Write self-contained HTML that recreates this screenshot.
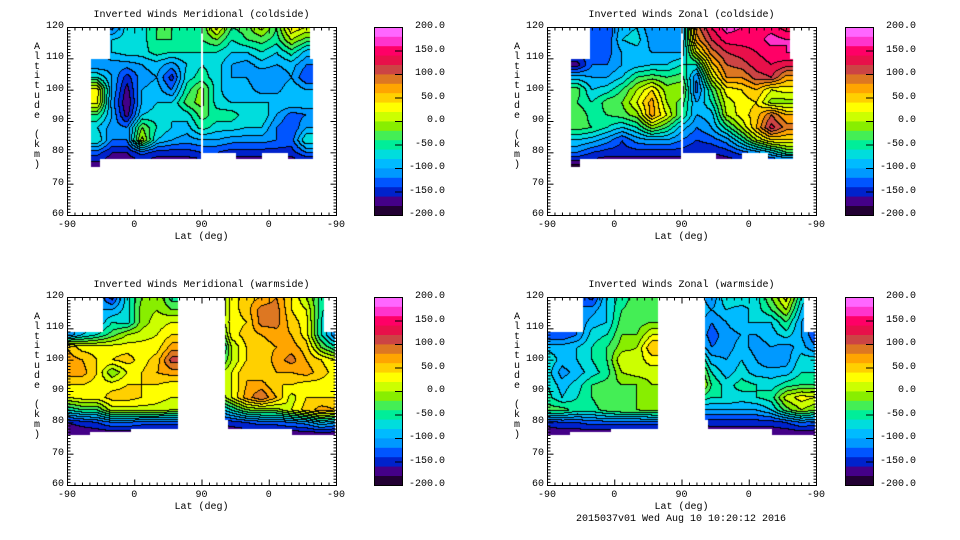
<!DOCTYPE html>
<html><head><meta charset="utf-8">
<style>
body{margin:0;background:#fff;width:960px;height:540px;overflow:hidden;position:relative;font-family:"Liberation Mono",monospace;}
.t{position:absolute;font-size:10px;color:#000;white-space:pre;line-height:12px;}
canvas{position:absolute;}
svg{position:absolute;left:0;top:0;}
</style></head><body>
<svg id="axes" width="960" height="540"></svg>
<script>
// ---- data ----
const colorBands = ["#220033","#440088","#0022cc","#0055ff","#0099ff","#00bbff","#00dddd","#00ee99","#44ee55","#88ee00","#ccff00","#ffff00","#ffd000","#ffa500","#dd7722","#cc4444","#e8104a","#ff0066","#ff33cc","#ff66ff"];
const cbTickLabels = ["200.0","150.0","100.0","50.0","0.0","-50.0","-100.0","-150.0","-200.0"];
const cbTickValues = [200,150,100,50,0,-50,-100,-150,-200];
const altRows = [120,116,112,108,104,100,96,92,88,84,80,76];
const uCols = [0,20,40,60,80,100,120,140,160,180,200,220,240,260,280,300,320,340,360];
const xTickLabels = ["-90","0","90","0","-90"];
const yTickValues = [60,70,80,90,100,110,120];
const titles = ["Inverted Winds Meridional (coldside)","Inverted Winds Zonal (coldside)","Inverted Winds Meridional (warmside)","Inverted Winds Zonal (warmside)"];
const merCold = [
[-100,-100,-100,-120,-60,30,30,-40,-80,-60,-130,-170],
[-100,-100,-100,-120,-60,30,30,-40,-80,-60,-130,-170],
[-100,-100,-100,-120,-60,30,30,-40,-80,-60,-130,-170],
[-130,-80,-80,-110,-100,-100,-110,-100,-110,-120,-160,-180],
[-70,-70,-70,-110,-150,-170,-180,-170,-120,-120,-160,-180],
[-70,-70,-70,-100,-110,-100,-100,-80,-20,10,-130,-180],
[-40,-40,-50,-90,-100,-90,-80,-70,-60,-80,-150,-180],
[-40,-40,-60,-110,-150,-120,-80,-80,-80,-100,-150,-180],
[-50,-50,-60,-80,-70,-50,-30,-70,-90,-110,-150,-180],
[-40,-40,-60,-60,-50,-10,-10,-30,-50,-100,-140,-180],
[30,-20,-60,-70,-70,-70,-70,-50,-70,-100,-140,-180],
[-40,-60,-80,-100,-100,-100,-80,-50,-70,-110,-150,-180],
[-30,-40,-80,-110,-100,-90,-80,-70,-80,-110,-150,-180],
[10,-30,-60,-90,-120,-110,-80,-60,-80,-110,-150,-180],
[-40,-50,-80,-100,-120,-110,-80,-100,-120,-120,-150,-180],
[40,0,-50,-90,-100,-80,-80,-130,-140,-130,-150,-180],
[20,-30,-90,-120,-140,-100,-80,-120,-100,-60,-120,-180],
[20,-30,-90,-120,-140,-100,-80,-120,-100,-60,-120,-180],
[20,-30,-90,-120,-140,-100,-80,-120,-100,-60,-120,-180]];
const zonCold = [
[-130,-130,-130,-170,-90,-30,-40,-20,-30,-80,-120,-180],
[-130,-130,-130,-170,-90,-30,-40,-20,-30,-80,-120,-180],
[-130,-130,-130,-170,-90,-30,-40,-20,-30,-80,-120,-180],
[-130,-130,-130,-120,-100,-80,-60,-50,-40,-90,-140,-180],
[-140,-140,-130,-120,-100,-70,-30,-40,-60,-110,-150,-180],
[-90,-80,-100,-100,-80,-40,-20,-30,-80,-140,-150,-180],
[-80,-70,-90,-90,-40,0,20,-10,-60,-110,-150,-180],
[-120,-110,-100,-80,-30,40,70,70,-10,-100,-150,-180],
[-120,-120,-100,-80,-40,-10,0,20,-40,-100,-150,-180],
[-120,-110,-100,-60,-30,0,-30,-40,-90,-120,-150,-180],
[90,70,20,-60,-120,-130,-100,-100,-120,-140,-160,-180],
[140,120,90,50,10,-40,-60,-90,-100,-130,-160,-180],
[170,150,120,100,80,30,10,0,-50,-110,-150,-180],
[160,150,130,110,80,40,30,30,0,-60,-130,-180],
[150,150,140,130,110,60,40,50,60,0,-110,-180],
[150,170,150,140,120,20,-10,100,130,40,-80,-180],
[130,160,160,130,70,30,-10,60,90,40,-40,-180],
[130,160,160,130,70,30,-10,60,90,40,-40,-180],
[130,160,160,130,70,30,-10,60,90,40,-40,-180]];
const merWarm = [
[-100,-100,-100,-120,60,70,70,40,20,-60,-160,-180],
[-100,-100,-100,-80,30,60,70,40,30,-40,-150,-180],
[-100,-100,-100,-60,30,40,40,30,30,-40,-140,-180],
[-150,-100,-60,-30,30,40,-20,30,50,10,-120,-180],
[-70,-70,-70,0,30,50,20,40,50,10,-120,-180],
[-20,-10,-10,10,30,30,40,40,40,10,-130,-180],
[0,0,10,20,30,50,60,40,30,10,-130,-180],
[-50,-20,20,40,70,110,70,30,20,0,-130,-180],
[-50,-20,20,40,70,110,70,30,20,0,-130,-180],
[-50,-50,-30,-80,-120,-70,-10,-10,-30,-100,-160,-180],
[-50,-50,-30,-80,-120,-70,-10,-10,-30,-100,-160,-180],
[30,30,30,30,0,0,20,20,20,-60,-150,-180],
[50,50,40,50,40,40,60,60,70,-20,-140,-180],
[60,90,90,60,50,40,40,70,100,-10,-130,-180],
[80,90,90,70,60,70,60,40,60,-10,-130,-180],
[40,40,50,60,70,90,60,40,10,20,-120,-180],
[0,20,30,30,50,60,70,30,40,50,-110,-180],
[-50,-50,-60,-60,-20,40,50,30,40,70,-80,-180],
[-120,-120,-120,-120,-60,20,30,20,40,60,-100,-180]];
const zonWarm = [
[-140,-140,-140,-140,-90,-60,-70,-60,-50,-30,-150,-180],
[-140,-140,-140,-140,-90,-90,-110,-90,-80,-30,-140,-180],
[-120,-120,-120,-120,-80,-80,-90,-70,-60,-50,-140,-180],
[-150,-110,-90,-70,-60,-60,-70,-40,-40,-50,-130,-180],
[-80,-80,-80,-60,-40,-40,-50,-30,-20,-30,-130,-180],
[-50,-40,-30,-20,-10,20,0,-20,-30,-20,-130,-180],
[-30,-30,-30,-20,0,10,10,-20,-20,-20,-130,-180],
[-40,-30,-20,20,60,30,10,0,-10,-10,-130,-180],
[-40,-30,-20,20,60,30,10,0,-10,-10,-130,-180],
[-80,-80,-90,-100,-80,-20,20,40,-40,-100,-160,-180],
[-80,-80,-90,-100,-80,-20,20,40,-40,-100,-160,-180],
[-120,-100,-120,-130,-120,-90,-60,-40,-60,-100,-150,-180],
[-60,-80,-100,-110,-110,-100,-90,-70,-60,-100,-150,-180],
[-60,-90,-80,-100,-90,-80,-70,-50,-70,-100,-150,-180],
[-70,-70,-80,-100,-110,-100,-90,-60,-60,-100,-150,-180],
[-20,-40,-80,-90,-100,-120,-90,-70,-50,-80,-150,-180],
[30,0,-40,-70,-110,-110,-90,-50,10,-30,-140,-180],
[-60,-80,-100,-100,-90,-70,-60,-40,30,0,-120,-180],
[-140,-140,-140,-140,-120,-70,-60,-40,20,-20,-130,-180]];
const fields = [merCold, zonCold, merWarm, zonWarm];

// ---- layout ----
const panels = [{x:67,y:27,cb:374},{x:547,y:27,cb:845},{x:67,y:297,cb:374},{x:547,y:297,cb:845}];
const PW=269, PH=188;
function maskCold(u){
  if(u<32) return null;
  if(u<57) return [u<43?75.5:78,110];
  if(u<178) return [78,120];
  if(u<181) return null;
  if(u<324) return [(u<225||(u>=260&&u<295))?80:78,120];
  if(u<329) return [78,110];
  return null;
}
function maskWarm(u){
  if(u<1) return null;
  if(u<48) return [u<30?76:77,109];
  if(u<148) return [u<85?77:78,120];
  if(u<211) return null;
  if(u<343) return [u<215?81:(u>300?76:78),120];
  if(u<358) return [76,109];
  return null;
}
const masks=[maskCold,maskCold,maskWarm,maskWarm];

const svg=document.getElementById('axes');
const NS="http://www.w3.org/2000/svg";
function mk(tag,attrs,parent){const e=document.createElementNS(NS,tag);for(const k in attrs)e.setAttribute(k,attrs[k]);(parent||svg).appendChild(e);return e;}
function txt(s,x,y,align){const d=document.createElement('div');d.className='t';d.textContent=s;d.style.top=(y-6)+'px';
  if(align==='r'){d.style.right=(960-x)+'px';}else if(align==='c'){d.style.left=(x-s.length*3.0)+'px';}else d.style.left=x+'px';
  document.body.appendChild(d);return d;}
function interp(data,u,alt){
  const ci=Math.min(17,Math.max(0,Math.floor(u/20))); const fu=(u-uCols[ci])/20;
  const ri=Math.min(10,Math.max(0,Math.floor((120-alt)/4))); const fa=(altRows[ri]-alt)/4;
  const a=data[ci][ri],b=data[ci+1][ri],c=data[ci][ri+1],d=data[ci+1][ri+1];
  return (a*(1-fu)+b*fu)*(1-fa)+(c*(1-fu)+d*fu)*fa;
}
function hex(h){return [parseInt(h.substr(1,2),16),parseInt(h.substr(3,2),16),parseInt(h.substr(5,2),16)];}
const rgb=colorBands.map(hex);

panels.forEach((p,pi)=>{
  const g=mk('g',{});
  
  
  const cv=document.createElement('canvas');cv.width=PW;cv.height=PH;cv.style.left=p.x+'px';cv.style.top=p.y+'px';
  
  
  document.body.insertBefore(cv,svg);
  const ctx=cv.getContext('2d');const img=ctx.createImageData(PW,PH);
  const band=new Int16Array(PW*PH).fill(-1);
  for(let j=0;j<PH;j++){const alt=120-j/PH*60;
    for(let i=0;i<PW;i++){const u=i/PW*360;const m=masks[pi](u);
      if(!m||alt<m[0]||alt>m[1])continue;
      const v=interp(fields[pi],u,alt);
      band[j*PW+i]=Math.max(0,Math.min(19,Math.floor((v+200)/20)));}}
  for(let j=0;j<PH;j++)for(let i=0;i<PW;i++){const k=j*PW+i;const b=band[k];if(b<0)continue;
    let c=rgb[b];
    const r=i+1<PW?band[k+1]:b, dn=j+1<PH?band[k+PW]:b;
    if((r>=0&&r!==b)||(dn>=0&&dn!==b))c=[0,0,0];
    img.data[k*4]=c[0];img.data[k*4+1]=c[1];img.data[k*4+2]=c[2];img.data[k*4+3]=255;}
  ctx.putImageData(img,0,0);
  mk('rect',{x:p.x+0.5,y:p.y+0.5,width:PW,height:PH,fill:'none',stroke:'#000','stroke-width':1},g);
  for(let k=0;k<=36;k++){const x=p.x+0.5+k*PW/36;const L=(k%9===0)?6:3;
    mk('line',{x1:x,x2:x,y1:p.y+PH+0.5,y2:p.y+PH+0.5-L,stroke:'#000'},g);
    mk('line',{x1:x,x2:x,y1:p.y+0.5,y2:p.y+0.5+L,stroke:'#000'},g);}
  for(let k=0;k<=60;k++){const y=p.y+0.5+k*PH/60;const L=(k%10===0)?6:3;
    mk('line',{x1:p.x+0.5,x2:p.x+0.5+L,y1:y,y2:y,stroke:'#000'},g);
    mk('line',{x1:p.x+PW+0.5,x2:p.x+PW+0.5-L,y1:y,y2:y,stroke:'#000'},g);}
  xTickLabels.forEach((s,k)=>{const e=txt(s,p.x+k*PW/4,p.y+PH+11,'c');});
  yTickValues.forEach(v=>{const e=txt(String(v),p.x-3,p.y+(120-v)/60*PH,'r');});
  const t=txt(titles[pi],p.x+PW/2,p.y-11,'c');
  const xl=txt("Lat (deg)",p.x+PW/2,p.y+PH+23,'c');
  "Altitude (km)".split('').forEach((ch,k)=>{const e=txt(ch,p.x-33,p.y+21+k*9.8,'l');});
  const bh=PH/colorBands.length;
  colorBands.forEach((c,k)=>{const r=mk('rect',{x:p.cb,y:p.y+PH-(k+1)*bh,width:28,height:bh+0.4,fill:c},g);
    });
  mk('rect',{x:p.cb+0.5,y:p.y+0.5,width:28,height:PH,fill:'none',stroke:'#000'},g);
  cbTickValues.forEach((v,k)=>{const y=p.y+(200-v)/400*PH;
    mk('line',{x1:p.cb+21,x2:p.cb+28,y1:y+0.5,y2:y+0.5,stroke:'#000'},g);
    const e=txt(cbTickLabels[k],p.cb+71,y,'r');});
});
const f=txt("2015037v01 Wed Aug 10 10:20:12 2016",681,520,'c');


</script>
</body></html>
